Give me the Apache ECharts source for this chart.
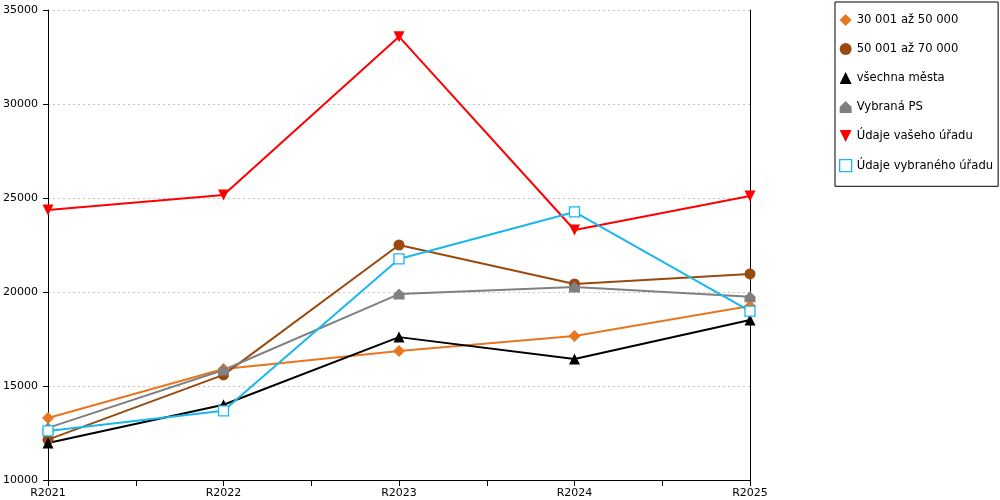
<!DOCTYPE html>
<html>
<head>
<meta charset="utf-8">
<script src="https://cdn.jsdelivr.net/npm/echarts@6/dist/echarts.min.js"></script>
<style>
html,body{margin:0;padding:0;background:#fff;}
#chart{width:1000px;height:500px;}
</style>
</head>
<body>
<div id="chart"></div>
<script>
var categories=['R2021','R2022','R2023','R2024','R2025'];
var names=['30 001 až 50 000','50 001 až 70 000','všechna města','Vybraná PS','Údaje vašeho úřadu','Údaje vybraného úřadu'];
var s30to50=[13300,15900,16860,17660,19250];
var s50to70=[12150,15590,22500,20430,20960];
var allCities=[11970,14000,17600,16440,18510];
var chosenPS=[12770,15850,19890,20270,19750];
var yourOffice=[24360,25160,33580,23300,25110];
var chosenOffice=[12610,13680,21760,24260,18980];
var yTicks=[10000,15000,20000,25000,30000,35000];

var house='path://M5,0 L10,5 L10,10 L0,10 L0,5 Z';
var downTri='path://M0,0 L10,0 L5,10 Z';

function pts(arr){
	return arr.map(function(v,i){return [i,v];});
}

var chart=echarts.init(document.getElementById('chart'));
var font='DejaVu Sans';

function mkSeries(name,data,color,symbol,size,fill){
	return {
		name:name,
		type:'line',
		data:pts(data),
		symbol:symbol,
		symbolSize:size,
		lineStyle:{color:color,width:2},
		itemStyle:{color:fill||color,borderColor:color,borderWidth:fill?1.3:0},
		emphasis:{disabled:true},
		animation:false
	};
}

var option={
	backgroundColor:'#fff',
	animation:false,
	grid:{left:48,right:250,top:10,bottom:20,containLabel:false},
	legend:{
		orient:'vertical',
		left:835,
		top:2,
		padding:[12,5,14,4],
		itemWidth:12,
		itemHeight:12,
		itemGap:17,
		borderColor:'#000',
		borderWidth:1,
		textStyle:{fontFamily:font,fontSize:11.6,color:'#000'},
		data:[
			{name:names[0],icon:'diamond'},
			{name:names[1],icon:'circle'},
			{name:names[2],icon:'triangle'},
			{name:names[3],icon:house},
			{name:names[4],icon:downTri},
			{name:names[5],icon:'rect',itemStyle:{color:'#fff',borderColor:'#1ab7ee',borderWidth:1.3}}
		]
	},
	xAxis:{
		type:'value',
		min:0,
		max:4,
		interval:0.5,
		axisLine:{show:true,onZero:false,lineStyle:{color:'#000',width:1}},
		axisTick:{show:true,length:6,lineStyle:{color:'#000'}},
		splitLine:{show:false},
		axisLabel:{
			fontFamily:font,fontSize:11,color:'#000',margin:8,
			formatter:function(v){
				return (v%1===0)?categories[v]:'';
			}
		}
	},
	yAxis:[{
		type:'value',
		min:yTicks[0],
		max:yTicks[yTicks.length-1],
		interval:5000,
		axisLine:{show:true,lineStyle:{color:'#000',width:1}},
		axisTick:{show:true,length:5,lineStyle:{color:'#000'}},
		splitLine:{show:true,lineStyle:{color:'#c4c4c4',type:[2,3],width:1}},
		axisLabel:{fontFamily:font,fontSize:11,color:'#000',margin:10,
			formatter:function(v){return String(v);}}
	},{
		type:'value',
		position:'right',
		min:yTicks[0],
		max:yTicks[yTicks.length-1],
		interval:5000,
		axisLine:{show:true,lineStyle:{color:'#000',width:1}},
		axisTick:{show:false},
		axisLabel:{show:false},
		splitLine:{show:false}
	}],
	series:[
		mkSeries(names[0],s30to50,'#e8761e','diamond',12),
		mkSeries(names[1],s50to70,'#9a4a0e','circle',11),
		mkSeries(names[2],allCities,'#000000','triangle',11),
		mkSeries(names[3],chosenPS,'#808080',house,11),
		mkSeries(names[4],yourOffice,'#ff0000',downTri,11),
		mkSeries(names[5],chosenOffice,'#1ab7ee','rect',10,'#ffffff')
	]
};
chart.setOption(option);
</script>
</body>
</html>
